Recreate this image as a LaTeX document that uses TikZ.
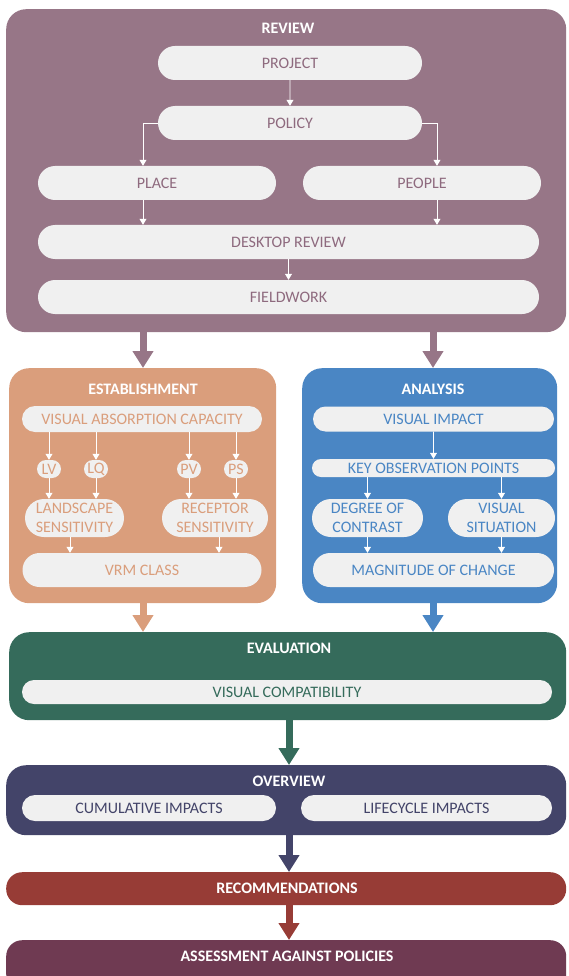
\documentclass[tikz,border=0pt]{standalone}
\usepackage{fontspec}
\setmainfont{Carlito}
\usetikzlibrary{arrows.meta,shapes.misc}
\definecolor{revc}{HTML}{977687}
\definecolor{revt}{HTML}{8E6A7E}
\definecolor{estc}{HTML}{DA9E7C}
\definecolor{anac}{HTML}{4A86C4}
\definecolor{evac}{HTML}{356B5B}
\definecolor{ovec}{HTML}{434469}
\definecolor{recc}{HTML}{973C36}
\definecolor{assc}{HTML}{6F3A52}
\definecolor{pillc}{HTML}{F0F0F0}
\begin{document}
\begin{tikzpicture}[x=1pt, y=-1pt, font=\fontsize{16}{19}\selectfont,
 frame/.style={rounded corners=20pt, inner sep=0pt, anchor=north west},
 head/.style={text=white, font=\fontsize{16}{19}\selectfont\bfseries},
 pill/.style={rounded rectangle, fill=pillc, inner sep=1pt, align=center},
 link/.style={white, line width=0.8pt, -{Triangle[width=7pt,length=6pt]}},
 bigarrow/.style={line width=7pt, -{Triangle[width=20pt,length=17pt]}}]
 \useasboundingbox (0,0) rectangle (568,976);
 % frames
 \node[frame, fill=revc, minimum width=560pt, minimum height=323pt] (review) at (6,9) {};
 \node[frame, fill=estc, minimum width=267pt, minimum height=235pt] (est) at (9,368) {};
 \node[frame, fill=anac, minimum width=255pt, minimum height=235pt] (ana) at (302,368) {};
 \node[frame, fill=evac, minimum width=557pt, minimum height=88pt] (eva) at (9,632) {};
 \node[frame, fill=ovec, minimum width=560pt, minimum height=70pt] (ove) at (6,765) {};
 \node[frame, rounded corners=16pt, fill=recc, minimum width=560pt, minimum height=33pt] (rec) at (6,872) {};
 \node[frame, rounded corners=16pt, fill=assc, minimum width=560pt, minimum height=50pt] (ass) at (6,940) {};
 \node[head] (revtitle) at (288,28) {REVIEW};
 \node[head] (esttitle) at (143,389) {ESTABLISHMENT};
 \node[head] (anatitle) at (433,389) {ANALYSIS};
 \node[head] (evatitle) at (289,648) {EVALUATION};
 \node[head] (ovetitle) at (289,781) {OVERVIEW};
 \node[head] (rectitle) at (287,888) {RECOMMENDATIONS};
 \node[head] (asstitle) at (287,956) {ASSESSMENT AGAINST POLICIES};
 % review
 \begin{scope}[every node/.style={pill, text=revt, minimum height=34pt}]
  \node[minimum width=266pt] (project) at (290,63) {PROJECT};
  \node[minimum width=266pt] (policy) at (290,123) {POLICY};
  \node[minimum width=240pt] (place) at (157,183) {PLACE};
  \node[minimum width=240pt] (people) at (422,183) {PEOPLE};
  \node[minimum width=503pt] (desk) at (288.5,242) {DESKTOP REVIEW};
  \node[minimum width=503pt] (field) at (288.5,297) {FIELDWORK};
 \end{scope}
 \draw[link] (project) -- (policy);
 \draw[link] (policy.west) -| ([xshift=-14pt]place.north);
 \draw[link] (policy.east) -| ([xshift=15pt]people.north);
 \draw[link] ([xshift=-14pt]place.south) -- ([xshift=-14pt]place.south |- desk.north);
 \draw[link] ([xshift=15pt]people.south) -- ([xshift=15pt]people.south |- desk.north);
 \draw[link] (desk) -- (field);
 % establishment
 \begin{scope}[every node/.style={pill, text=estc}]
  \node[minimum width=242pt, minimum height=26pt] (vac) at (142,419) {VISUAL ABSORPTION CAPACITY};
  \node[minimum width=24pt, minimum height=18pt, inner sep=0pt] (lv) at (49,469) {LV};
  \node[minimum width=24pt, minimum height=18pt, inner sep=0pt] (lq) at (96,469) {LQ};
  \node[minimum width=24pt, minimum height=18pt, inner sep=0pt] (pv) at (189,469) {PV};
  \node[minimum width=24pt, minimum height=18pt, inner sep=0pt] (ps) at (236,469) {PS};
  \node[minimum width=99pt, minimum height=38pt, inner sep=0pt] (lsens) at (74.5,518) {LANDSCAPE\\SENSITIVITY};
  \node[minimum width=106pt, minimum height=38pt, inner sep=0pt] (rsens) at (215,518) {RECEPTOR\\SENSITIVITY};
  \node[minimum width=241pt, minimum height=34pt] (vrm) at (142,570) {VRM CLASS};
 \end{scope}
 \foreach \n/\m in {lv/lsens,lq/lsens,pv/rsens,ps/rsens} {
  \draw[link] (\n.north |- vac.south) -- (\n.north);
  \draw[link] (\n.south) -- (\n.south |- \m.north);
 }
 \draw[link] ([xshift=-4.5pt]lsens.south) -- ([xshift=-4.5pt]lsens.south |- vrm.north);
 \draw[link] ([xshift=4pt]rsens.south) -- ([xshift=4pt]rsens.south |- vrm.north);
 % analysis
 \begin{scope}[every node/.style={pill, text=anac}]
  \node[minimum width=243pt, minimum height=25pt] (vimp) at (433.5,419) {VISUAL IMPACT};
  \node[minimum width=243pt, minimum height=18pt, inner sep=0pt] (kop) at (433.5,468) {KEY OBSERVATION POINTS};
  \node[minimum width=111pt, minimum height=38pt, inner sep=0pt] (doc) at (367.5,518) {DEGREE OF\\CONTRAST};
  \node[minimum width=107pt, minimum height=38pt, inner sep=0pt] (vsit) at (501.5,518) {VISUAL\\SITUATION};
  \node[minimum width=243pt, minimum height=34pt] (mag) at (433.5,570) {MAGNITUDE OF CHANGE};
 \end{scope}
 \draw[link] (vimp) -- (kop);
 \foreach \n in {doc,vsit} {
  \draw[link] (\n.north |- kop.south) -- (\n.north);
  \draw[link] (\n.south) -- (\n.south |- mag.north);
 }
 % evaluation and overview
 \node[pill, text=evac, minimum width=532pt, minimum height=24pt] (vcomp) at (287,692) {VISUAL COMPATIBILITY};
 \node[pill, text=ovec, minimum width=256pt, minimum height=26pt] (cum) at (149,808) {CUMULATIVE IMPACTS};
 \node[pill, text=ovec, minimum width=253pt, minimum height=26pt] (life) at (426.5,808) {LIFECYCLE IMPACTS};
 % main arrows
 \draw[bigarrow, revc] (esttitle |- review.south) -- (esttitle |- est.north);
 \draw[bigarrow, revc] (anatitle |- review.south) -- (anatitle |- ana.north);
 \draw[bigarrow, estc] (esttitle |- est.south) -- (esttitle |- eva.north);
 \draw[bigarrow, anac] (anatitle |- ana.south) -- (anatitle |- eva.north);
 \draw[bigarrow, evac] (evatitle |- eva.south) -- (evatitle |- ove.north);
 \draw[bigarrow, ovec] (evatitle |- ove.south) -- (evatitle |- rec.north);
 \draw[bigarrow, recc] (evatitle |- rec.south) -- (evatitle |- ass.north);
\end{tikzpicture}
\end{document}
